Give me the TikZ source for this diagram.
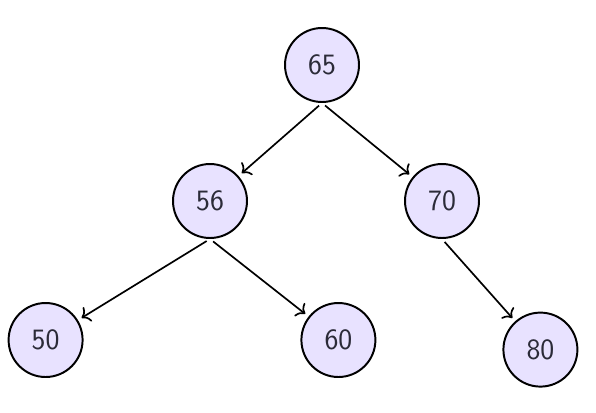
\documentclass[tikz,border=0pt]{standalone}
\usepackage{tikz}
\usetikzlibrary{arrows.meta}
\definecolor{nodeFill}{HTML}{E8E2FF}
\definecolor{nodeText}{HTML}{2B2B38}
\begin{document}
\begin{tikzpicture}[treeNode/.style={draw, circle, line width=1.4pt, fill=nodeFill,
	text=nodeText, minimum size=1.85cm, inner sep=0pt, font=\sffamily\fontsize{21}{24}\selectfont},
	treeLink/.style={-{To[length=5.5pt,width=12pt]}, line width=1.2pt, shorten <=2.8pt, shorten >=3pt}]
			
			\useasboundingbox (0,0) rectangle (14.9,-10.3);
			
			%Root
			\node (n65) at (8.05,-1.625) [treeNode]{65};
			
			%Second level
			\node (n56) at (5.25,-5.025) [treeNode]{56};
			\node (n70) at (11.05,-5.025) [treeNode]{70};
			
			%Leaves
			\node (n50) at (1.14,-8.5) [treeNode]{50};
			\node (n60) at (8.46,-8.5) [treeNode]{60};
			\node (n80) at (13.51,-8.74) [treeNode]{80};
			
			%Links among nodes
			\draw[treeLink] (n65.south) -- (n56);
			\draw[treeLink] (n65.south) -- (n70);
			\draw[treeLink] (n56.south) -- (n50);
			\draw[treeLink] (n56.south) -- (n60);
			\draw[treeLink] (n70.south) -- (n80);
			
\end{tikzpicture}
\end{document}
